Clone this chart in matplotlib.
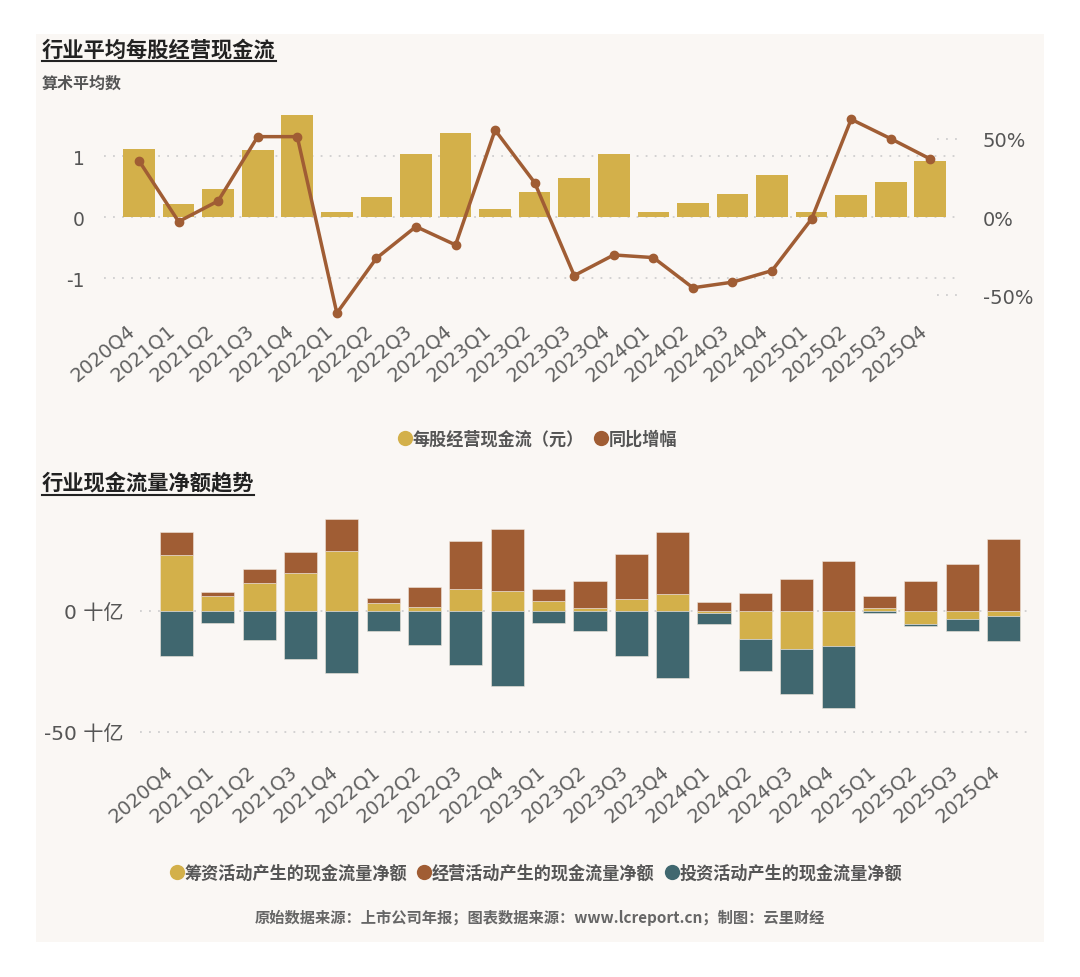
import matplotlib
matplotlib.use('Agg')
import matplotlib.pyplot as plt
from matplotlib.lines import Line2D
from matplotlib.patches import Rectangle

plt.rcParams['font.family'] = ['DejaVu Sans', 'Noto Sans CJK SC']

# ===== 数据
quarters = ['2020Q4', '2021Q1', '2021Q2', '2021Q3', '2021Q4', '2022Q1', '2022Q2',
            '2022Q3', '2022Q4', '2023Q1', '2023Q2', '2023Q3', '2023Q4', '2024Q1',
            '2024Q2', '2024Q3', '2024Q4', '2025Q1', '2025Q2', '2025Q3', '2025Q4']

# 每股经营现金流（元）
cfps = [1.12, 0.22, 0.46, 1.10, 1.68, 0.08, 0.33, 1.04, 1.38, 0.13, 0.41,
        0.65, 1.04, 0.09, 0.23, 0.38, 0.69, 0.09, 0.36, 0.57, 0.93]
# 同比增幅 (%)
yoy = [36.1, -2.8, 10.4, 51.5, 51.5, -61.3, -26.2, -6.0, -17.7, 55.7, 22.1,
       -37.3, -24.1, -25.8, -45.1, -41.5, -34.1, -1.1, 62.6, 50.2, 37.2]

# 现金流量净额 (十亿)
financing = [23.3, 6.1, 11.7, 15.8, 24.9, 3.2, 1.8, 9.0, 8.1, 4.1, 1.4,
             4.8, 7.0, -1.0, -11.6, -15.6, -14.7, 1.2, -5.4, -3.2, -2.2]
operating = [9.6, 1.9, 5.5, 8.5, 13.2, 2.3, 8.0, 20.0, 26.0, 5.1, 10.9,
             18.9, 25.6, 3.6, 7.6, 13.1, 20.8, 5.0, 12.3, 19.3, 29.9]
investing = [-18.7, -4.8, -12.0, -19.7, -25.9, -8.4, -13.9, -22.5, -30.9, -5.1, -8.4,
             -18.6, -27.8, -4.4, -13.4, -18.9, -25.6, -1.0, -0.8, -5.1, -10.1]

c_yellow = '#d3b04a'
c_brown = '#a05d34'
c_teal = '#40676f'
c_text = '#555555'
c_bg = '#faf7f4'

W, H = 1080, 978
fig = plt.figure(figsize=(W / 100, H / 100), dpi=100)
fig.patch.set_facecolor('white')
fig.add_artist(Rectangle((36 / W, 1 - 943 / H), (1044 - 36) / W, (943 - 35) / H,
                         transform=fig.transFigure, facecolor=c_bg, edgecolor='none', zorder=-10))


def px_axes(l, t, r, b):
    return fig.add_axes([l / W, 1 - b / H, (r - l) / W, (b - t) / H])


def style_ax(ax):
    ax.set_facecolor('none')
    for s in ax.spines.values():
        s.set_visible(False)
    ax.tick_params(length=0, colors=c_text, labelsize=13)


x = list(range(len(quarters)))

# =========== 上图
ax1 = px_axes(104, 100, 958, 320)
style_ax(ax1)
ax1.bar(x, cfps, width=0.8, color=c_yellow, zorder=2)
ax1.set_xlim(-0.885, 20.7)
ylo, yhi = -1.67, 1.94
ax1.set_ylim(ylo, yhi)
ax1.set_yticks([-1, 0, 1])
ax1.set_yticklabels(['-1', '0', '1'])
ax1.tick_params(axis='y', pad=14, labelsize=13.5)
ax1.grid(axis='y', color='#cfcfcf', linestyle=(0, (1, 4)), linewidth=1.3, zorder=0)
ax1.set_xticks(x)
ax1.set_xticklabels(quarters, rotation=40, ha='right', fontsize=14, color='#606060')
ax1.tick_params(axis='x', pad=1)

ax2 = ax1.twinx()
style_ax(ax2)
k = 38.95
ax2.set_ylim(ylo * k, yhi * k)
ax2.plot(x, yoy, color=c_brown, linewidth=2.5, marker='o', markersize=6, zorder=3)
ax2.set_yticks([-50, 0, 50])
ax2.set_yticklabels(['-50%', '0%', '50%'])
ax2.tick_params(axis='y', pad=18, labelsize=14)
for v in [-50, 50]:
    ax2.axhline(v, xmin=0.975, xmax=1.0, color='#cfcfcf', linestyle=(0, (1, 4)), linewidth=1.3)

# =========== 下图
ax3 = px_axes(140, 505, 1030, 745)
style_ax(ax3)
pos_base = [0.0] * len(x)
neg_base = [0.0] * len(x)
for vals, col in [(financing, c_yellow), (operating, c_brown), (investing, c_teal)]:
    bottoms = []
    for i, v in enumerate(vals):
        if v >= 0:
            bottoms.append(pos_base[i])
            pos_base[i] += v
        else:
            bottoms.append(neg_base[i])
            neg_base[i] += v
    ax3.bar(x, vals, bottom=bottoms, width=0.8, color=col, zorder=2,
            edgecolor='#efe6dc', linewidth=0.4)
ax3.set_xlim(-0.88, 20.64)
ax3.set_ylim(-55.1, 44.3)
ax3.set_yticks([-50, 0])
ax3.set_yticklabels(['-50 十亿', '0 十亿'])
ax3.tick_params(axis='y', pad=12, labelsize=14.5)
ax3.grid(axis='y', color='#cfcfcf', linestyle=(0, (1, 4)), linewidth=1.3, zorder=0)
ax3.set_xticks(x)
ax3.set_xticklabels(quarters, rotation=40, ha='right', fontsize=14, color='#606060')
ax3.tick_params(axis='x', pad=12)

# =========== 标题
cjk = ['Noto Sans CJK SC', 'DejaVu Sans']


def title(text, xp, yp, size):
    t = fig.text(xp / W, 1 - yp / H, text, fontsize=size, fontweight='bold', color='#222222',
                 family=cjk, va='center', ha='left')
    fig.canvas.draw()
    bb = t.get_window_extent(renderer=fig.canvas.get_renderer())
    yl = (bb.y0 - 1) / H
    fig.add_artist(Line2D([bb.x0 / W, bb.x1 / W], [yl, yl], color='#222222', linewidth=1.5,
                          transform=fig.transFigure))


title('行业平均每股经营现金流', 42, 50, 15.3)
title('行业现金流量净额趋势', 42, 484, 15.3)
fig.text(42 / W, 1 - 84 / H, '算术平均数', fontsize=11.5, fontweight='bold', color=c_text,
         family=cjk, va='center')

# =========== 图例
def dot(c):
    return Line2D([], [], marker='o', linestyle='none', markersize=11, markerfacecolor=c,
                  markeredgecolor='none')


leg1 = fig.legend([dot(c_yellow), dot(c_brown)], ['每股经营现金流（元）', '同比增幅'],
                  loc='center', bbox_to_anchor=(538 / W, 1 - 440 / H), ncol=2, frameon=False,
                  handletextpad=0.05, columnspacing=0.6, handlelength=0.8,
                  prop={'family': cjk, 'weight': 'bold', 'size': 12.3})
for t in leg1.get_texts():
    t.set_color(c_text)

leg2 = fig.legend([dot(c_yellow), dot(c_brown), dot(c_teal)],
                  ['筹资活动产生的现金流量净额', '经营活动产生的现金流量净额', '投资活动产生的现金流量净额'],
                  loc='center', bbox_to_anchor=(536 / W, 1 - 874 / H), ncol=3, frameon=False,
                  handletextpad=0.05, columnspacing=0.6, handlelength=0.8,
                  prop={'family': cjk, 'weight': 'bold', 'size': 12.3})
for t in leg2.get_texts():
    t.set_color(c_text)

fig.text(540 / W, 1 - 918 / H, '原始数据来源：上市公司年报；图表数据来源：www.lcreport.cn；制图：云里财经',
         fontsize=11, fontweight='bold', color='#666666', family=cjk, ha='center', va='center')

fig.savefig('out.png', dpi=100, facecolor='white')
